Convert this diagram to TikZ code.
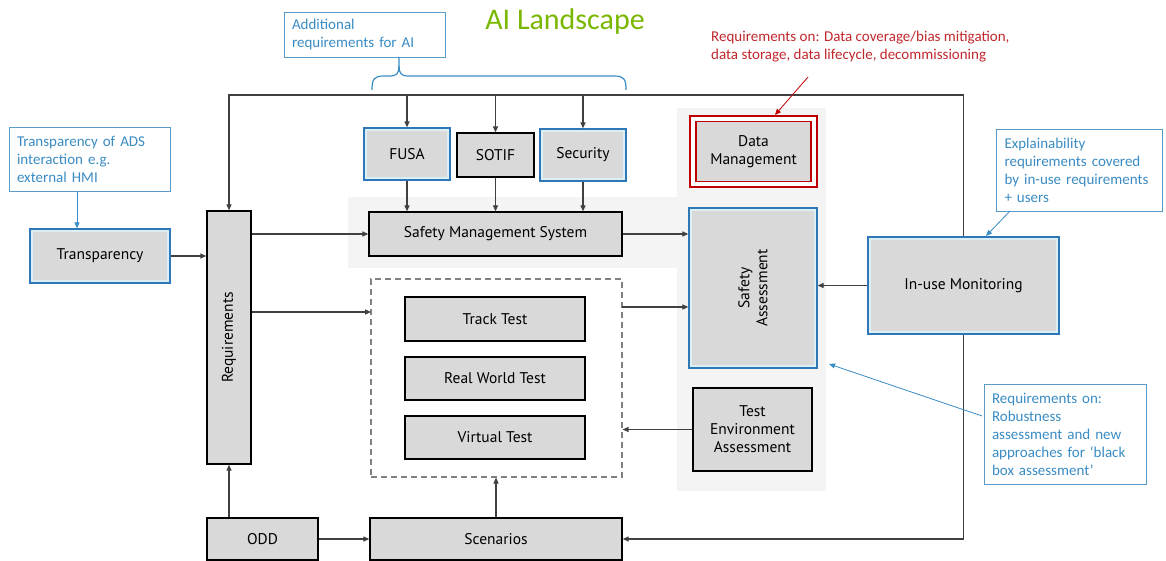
\documentclass[tikz,border=0pt]{standalone}
\usepackage{fontspec}
\setmainfont{PT Sans}
\newfontfamily\notefont{Carlito}
\usetikzlibrary{arrows.meta,calc}
\definecolor{boxgray}{HTML}{D9D9D9}
\definecolor{boxblue}{HTML}{2E78B8}
\definecolor{gapcyan}{HTML}{DCEFF5}
\definecolor{noteblue}{HTML}{3A8CC4}
\definecolor{noteline}{HTML}{5A9CC8}
\definecolor{titlegreen}{HTML}{7AB800}
\definecolor{redline}{HTML}{C00000}
\definecolor{redtext}{HTML}{C0282D}
\definecolor{panel}{HTML}{F4F4F4}
\definecolor{conn}{HTML}{404040}
\newcommand\boxsize{\fontsize{15.5}{18}\selectfont}
\newcommand\notesize{\notefont\fontsize{15}{18}\selectfont}
\begin{document}
\begin{tikzpicture}[x=1pt,y=-1pt,
  gbox/.style={draw=black, line width=1.3pt, fill=boxgray, inner sep=0pt, font=\boxsize, align=center},
  bluebox/.style={draw=boxblue, line width=1.3pt, fill=gapcyan, inner sep=0pt, font=\boxsize, align=center,
    path picture={\fill[boxgray] ([shift={(3pt,-3pt)}]path picture bounding box.north west) rectangle ([shift={(-3pt,3pt)}]path picture bounding box.south east);}},
  redbox/.style={draw=redline, line width=1.2pt, fill=white, inner sep=0pt, font=\boxsize, align=center,
    path picture={\draw[redline, line width=1.2pt, fill=boxgray] ([shift={(6pt,-5.5pt)}]path picture bounding box.north west) rectangle ([shift={(-6pt,5.5pt)}]path picture bounding box.south east);}},
  note/.style={draw=noteline, line width=0.9pt, fill=white, text=noteblue, font=\notesize, align=left, inner xsep=8pt, inner ysep=0pt, text width=#1},
  arr/.style={draw=conn, line width=1.2pt, -{Triangle[length=6pt,width=5pt]}},
  barr/.style={draw=noteblue, line width=0.8pt, -{Triangle[length=6pt,width=5pt]}},
  rarr/.style={draw=redline, line width=0.8pt, -{Triangle[length=6pt,width=5pt]}},
]
\useasboundingbox (0,0) rectangle (1166,561);
\fill[white] (0,0) rectangle (1166,561);
% background panels
\fill[panel] (348,197) rectangle (677,268);
\fill[panel] (677,108) rectangle (826,491);

% title
\node[text=titlegreen, font=\notefont\fontsize{30}{34}\selectfont] (title) at (565,22) {AI Landscape};

% notes
\node[note=145pt, minimum width=161pt, minimum height=45pt] (addl) at (364.5,34.5) {Additional\\requirements for AI};
\node[note=145pt, minimum width=161pt, minimum height=64pt] (tnote) at (89.5,159) {Transparency of ADS\\interaction e.g.\\external HMI};
\node[note=150pt, minimum width=161pt, minimum height=82pt] (xnote) at (1079.5,170) {Explainability\\requirements covered\\by in-use requirements\\+ users};
\node[note=146pt, minimum width=162pt, minimum height=100pt] (rnote) at (1065,434) {Requirements on:\\Robustness\\assessment and new\\approaches for ‘black\\box assessment’};
\node[text=redtext, font=\notesize, align=left, anchor=north west, inner sep=0pt] (rtext) at (711,31) {Requirements on: Data coverage/bias mitigation,\\data storage, data lifecycle, decommissioning};

% boxes
\node[bluebox, minimum width=86pt, minimum height=52pt] (fusa) at (407,154) {FUSA};
\node[gbox, minimum width=77pt, minimum height=44pt] (sotif) at (495.5,155) {SOTIF};
\node[bluebox, minimum width=86pt, minimum height=52pt] (sec) at (583,155) {Security};
\node[gbox, minimum width=253pt, minimum height=44pt] (sms) at (495.5,234) {Safety Management System};
\node[redbox, minimum width=127pt, minimum height=71pt] (dm) at (753.5,151.5) {Data\\Management};
\node[bluebox, minimum width=128pt, minimum height=160pt] (sa) at (753,288) {};
\node[rotate=90, align=center, font=\boxsize] (salabel) at (sa) {Safety\\Assessment};
\node[bluebox, minimum width=191pt, minimum height=97pt] (inuse) at (963.5,285.5) {In-use Monitoring};
\node[gbox, minimum width=119pt, minimum height=83pt] (tea) at (752.5,429.5) {Test\\Environment\\Assessment};
\node[draw=gray, dash pattern=on 6pt off 4pt, line width=1.1pt, minimum width=251pt, minimum height=198pt, inner sep=0pt] (tests) at (496.5,378) {};
\node[gbox, minimum width=180pt, minimum height=44pt] (track) at (495,319) {Track Test};
\node[gbox, minimum width=180pt, minimum height=43pt] (real) at (495,378.5) {Real World Test};
\node[gbox, minimum width=180pt, minimum height=43pt] (virt) at (495,437.5) {Virtual Test};
\node[gbox, minimum width=252pt, minimum height=42pt] (scen) at (496,539) {Scenarios};
\node[gbox, minimum width=111pt, minimum height=42pt] (odd) at (262.5,539) {ODD};
\node[gbox, minimum width=44pt, minimum height=253pt] (req) at (229,337.5) {};
\node[rotate=90, font=\boxsize] (reqlabel) at (req) {Requirements};
\node[bluebox, minimum width=140pt, minimum height=54pt] (trans) at (100,256) {Transparency};

% coordinates
\coordinate (topL) at (229,95);
\coordinate (topR) at (963.5,95);
\coordinate (tin) at (371,312);
\coordinate (tout) at (622,307);
\coordinate (n1) at (77,191);
\coordinate (xa) at (1010,211);
\coordinate (xb) at (986,236);
\coordinate (ra) at (982,416);
\coordinate (rb) at (829,364);
\coordinate (da) at (808,77);
\coordinate (db) at (775,115);

% connectors
\draw[arr] (inuse.north) -- (topR) -- (topL) -- (req.north);
\draw[arr] (fusa.north |- topL) -- (fusa.north);
\draw[arr] (sotif.north |- topL) -- (sotif.north);
\draw[arr] (sec.north |- topL) -- (sec.north);
\draw[arr] (fusa.south) -- (fusa.south |- sms.north);
\draw[arr] (sotif.south) -- (sotif.south |- sms.north);
\draw[arr] (sec.south) -- (sec.south |- sms.north);
\draw[arr] (inuse.south) |- (scen.east);
\draw[arr] (odd.east) -- (scen.west);
\draw[arr] (req.south |- odd.north) -- (req.south);
\draw[arr] (trans.east) -- (trans.east -| req.west);
\draw[arr] (req.east |- sms.west) -- (sms.west);
\draw[arr] (req.east |- tin) -- (tin);
\draw[arr] (sms.east) -- (sms.east -| sa.west);
\draw[arr] (tout) -- (tout -| sa.west);
\draw[arr] (inuse.west) -- (inuse.west -| sa.east);
\draw[arr] (tea.west) -- (tea.west -| tests.east);
\draw[arr] (scen.north) -- (scen.north |- tests.south);

\draw[barr] (n1) -- (n1 |- trans.north);
\draw[barr] (xa) -- (xb);
\draw[barr] (ra) -- (rb);
\draw[rarr] (da) -- (db);

% brace
\draw[noteblue, line width=1.2pt] (372,90) .. controls (372,79) and (374,76) .. (384,76) -- (390,76) .. controls (397,76) and (399,73) .. (399,66) -- (399,57);
\draw[noteblue, line width=1.2pt] (399,66) .. controls (399,73) and (401,76) .. (408,76) -- (614,76) .. controls (624,76) and (626,79) .. (626,90);
\end{tikzpicture}
\end{document}
